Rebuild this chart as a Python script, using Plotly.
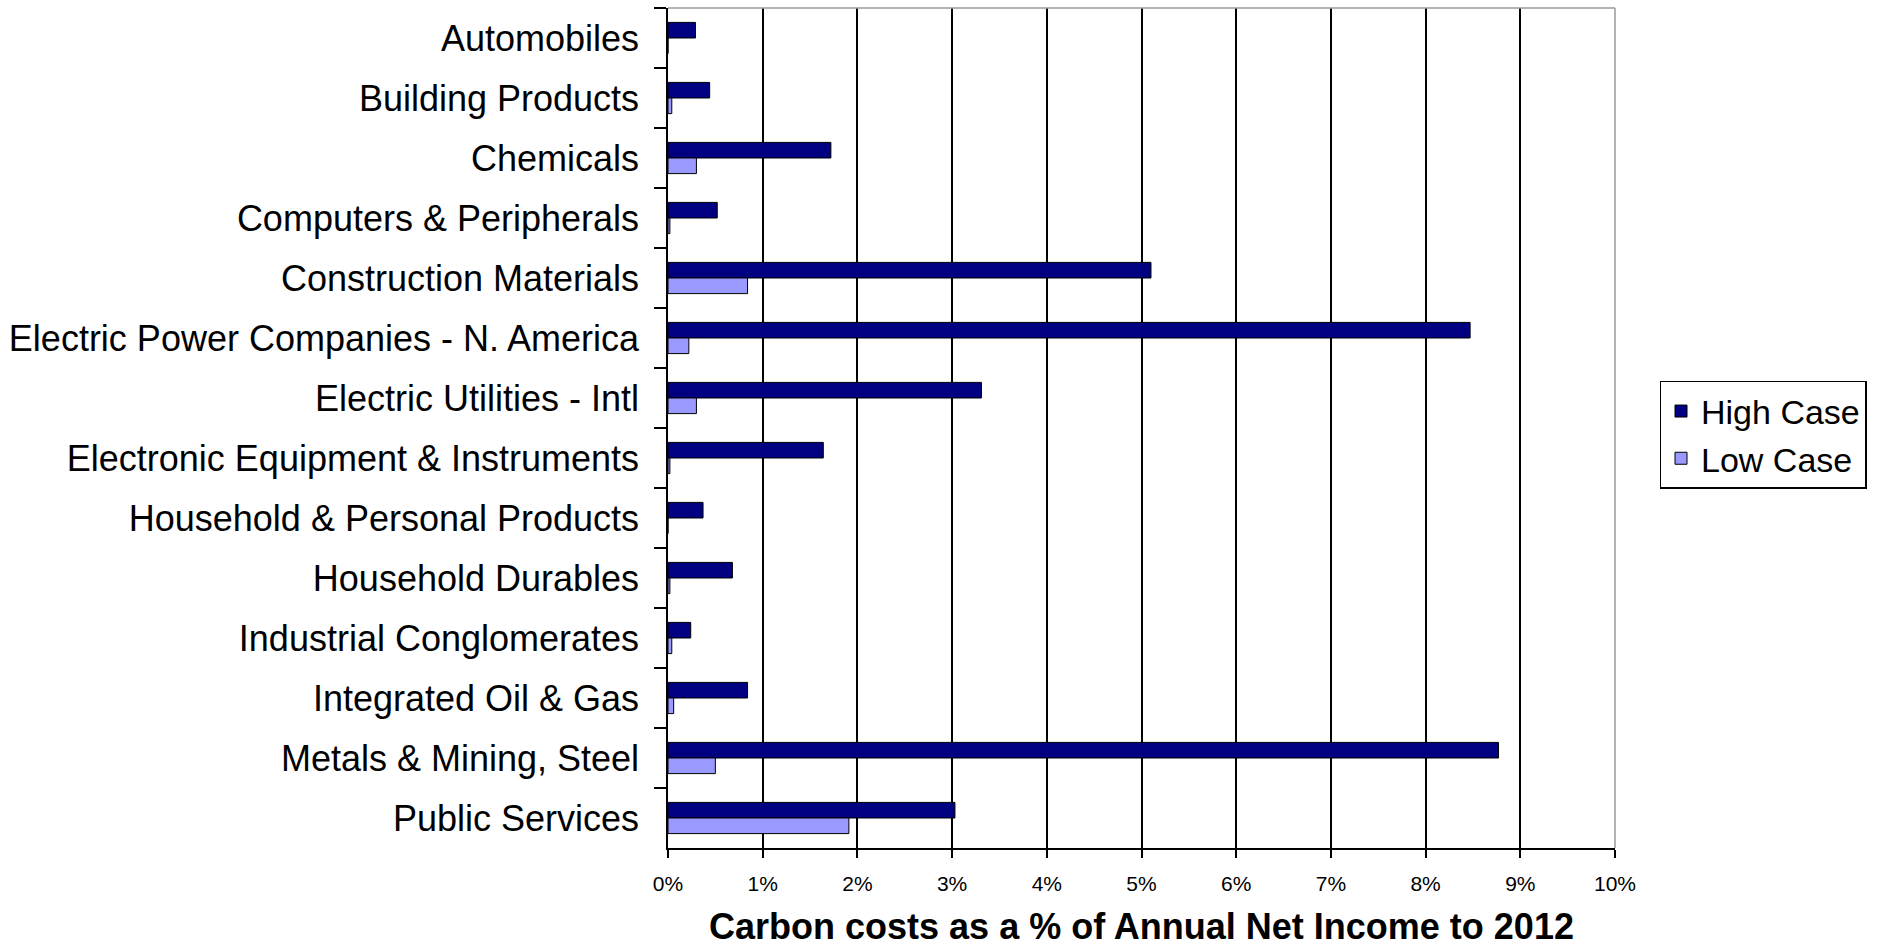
import plotly.graph_objects as go

# Sectors, top to bottom
sectors = [
    "Automobiles",
    "Building Products",
    "Chemicals",
    "Computers & Peripherals",
    "Construction Materials",
    "Electric Power Companies - N. America",
    "Electric Utilities - Intl",
    "Electronic Equipment & Instruments",
    "Household & Personal Products",
    "Household Durables",
    "Industrial Conglomerates",
    "Integrated Oil & Gas",
    "Metals & Mining, Steel",
    "Public Services",
]

# Carbon costs as % of annual net income (fraction units)
high_case = [0.0029, 0.0044, 0.0172, 0.0052, 0.0510, 0.0847, 0.0331, 0.0164,
             0.0037, 0.0068, 0.0024, 0.0084, 0.0877, 0.0303]
low_case = [0.0, 0.0004, 0.0030, 0.0002, 0.0084, 0.0022, 0.0030, 0.0002,
            0.0, 0.0002, 0.0004, 0.0006, 0.0050, 0.0191]

x_ticks = [i / 100 for i in range(0, 11)]

FONT = "Liberation Sans, Arial, sans-serif"

fig = go.Figure()
fig.add_trace(go.Bar(
    name="High Case", y=sectors, x=high_case, orientation="h",
    marker=dict(color="#000080", line=dict(color="#000000", width=1)),
))
fig.add_trace(go.Bar(
    name="Low Case", y=sectors, x=low_case, orientation="h",
    marker=dict(color="#9999FF", line=dict(color="#000000", width=1)),
))

fig.update_layout(
    width=1880, height=947,
    margin=dict(l=668, r=265, t=8, b=99),
    paper_bgcolor="white", plot_bgcolor="white",
    barmode="group", bargap=0.48, bargroupgap=0,
    font=dict(family=FONT, color="black"),
    showlegend=True,
    legend=dict(
        x=1.047, y=0.556, xanchor="left", yanchor="top",
        font=dict(size=34, family=FONT, color="black"),
        bordercolor="black", borderwidth=1.5, bgcolor="white",
        tracegroupgap=0,
    ),
    xaxis=dict(
        range=[0, 0.10], tickvals=x_ticks, tickformat=".0%",
        automargin=False,
        showgrid=True, gridcolor="#000000", gridwidth=1.5,
        showline=True, linecolor="#000000", linewidth=1.5,
        ticks="outside", ticklen=8, tickcolor="#000000", tickwidth=1.5,
        tickfont=dict(size=21, family=FONT),
        ticklabelstandoff=8,
        mirror=False, zeroline=False,
        title=dict(text="<b>Carbon costs as a % of Annual Net Income to 2012</b>",
                   font=dict(size=36, family=FONT), standoff=26),
    ),
    yaxis=dict(
        autorange="reversed", type="category",
        automargin=False,
        showline=True, linecolor="#000000", linewidth=1.5,
        ticks="outside", ticklen=12, tickcolor="#000000", tickwidth=1.5,
        tickson="boundaries",
        tickfont=dict(size=36, family=FONT),
        ticklabelstandoff=20,
        showgrid=False,
    ),
)

# Light frame on the top and right of the plotting area
fig.add_shape(type="line", xref="paper", yref="paper", x0=0, x1=1, y0=1, y1=1,
              line=dict(color="#9a9a9a", width=1.5))
fig.add_shape(type="line", xref="paper", yref="paper", x0=1, x1=1, y0=0, y1=1,
              line=dict(color="#9a9a9a", width=1.5))

fig.write_html("out.html")
